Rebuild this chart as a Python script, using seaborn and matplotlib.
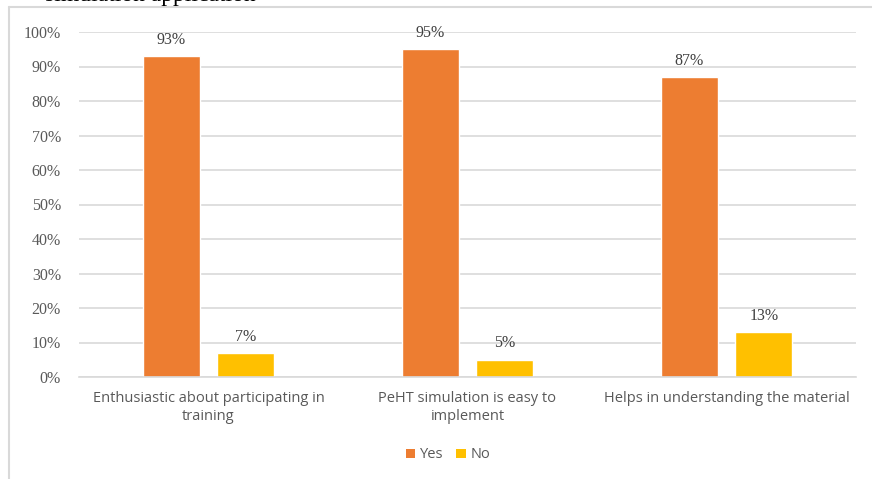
import matplotlib
matplotlib.use("Agg")
import matplotlib.pyplot as plt
import seaborn as sns
import pandas as pd
from matplotlib.lines import Line2D
from matplotlib.patches import Patch
from matplotlib.ticker import FuncFormatter

categories = ["Enthusiastic about participating in\ntraining",
              "PeHT simulation is easy to\nimplement",
              "Helps in understanding the material"]
yes_vals = [93, 95, 87]
no_vals = [7, 5, 13]
series = ["Yes", "No"]
colors = {"Yes": "#ED7D31", "No": "#FFC000"}

df = pd.DataFrame({
    "category": categories * 2,
    "response": ["Yes"] * 3 + ["No"] * 3,
    "value": yes_vals + no_vals,
})

sns.set_theme(style="white")
fig = plt.figure(figsize=(8.72, 4.79), dpi=100)
ax = fig.add_axes([79/872, 1-377/479, (856-79)/872, (377-32)/479])

sns.barplot(data=df, x="category", y="value", hue="response", palette=colors,
            order=categories, hue_order=series, width=0.575, gap=0.236,
            ax=ax, legend=False, saturation=1, errorbar=None)

ax.set_ylim(0, 100)
ax.set_xlim(-0.5, 2.5)
ax.set_yticks(range(0, 101, 10))
ax.yaxis.set_major_formatter(FuncFormatter(lambda v, p: f"{int(v)}%"))
ax.grid(axis="y", color="#D9D9D9", linewidth=1.2)
ax.set_axisbelow(True)
for s in ["top", "right", "left"]:
    ax.spines[s].set_visible(False)
ax.spines["bottom"].set_color("#D9D9D9")
ax.spines["bottom"].set_linewidth(1.2)
ax.tick_params(axis="both", length=0)
ax.tick_params(axis="y", pad=13)
ax.tick_params(axis="x", pad=10)
for lab in ax.get_yticklabels():
    lab.set_fontfamily("Liberation Serif")
    lab.set_fontsize(11.5)
    lab.set_color("#595959")
for lab in ax.get_xticklabels():
    lab.set_fontfamily("Open Sans")
    lab.set_fontsize(10.5)
    lab.set_color("#595959")
    lab.set_linespacing(1.25)
ax.set_xlabel("")
ax.set_ylabel("")

for cont in ax.containers:
    ax.bar_label(cont, labels=[f"{int(v)}%" for v in cont.datavalues], padding=6,
                 fontfamily="Liberation Serif", fontsize=11.5, color="#404040")

handles = [Patch(facecolor=colors[s], edgecolor="none") for s in series]
fig.legend(handles, series, loc="center", bbox_to_anchor=(448/872, 1-455/479),
           ncol=2, frameon=False, handlelength=0.65, handleheight=0.65,
           handletextpad=0.3, columnspacing=0.9,
           prop={"family": "Open Sans", "size": 10.5}, labelcolor="#595959")

fig.add_artist(Line2D([9/872, 9/872], [0, 1-7/479], color="#D9D9D9", lw=1.5,
                      transform=fig.transFigure))
fig.add_artist(Line2D([9/872, 1], [1-7/479, 1-7/479], color="#D9D9D9", lw=1.5,
                      transform=fig.transFigure))
fig.text(45/872, 1-1.5/479, "simulation application", fontfamily="Liberation Serif",
         fontsize=17, color="black", va="baseline", ha="left")

fig.savefig("out.png", dpi=100)
